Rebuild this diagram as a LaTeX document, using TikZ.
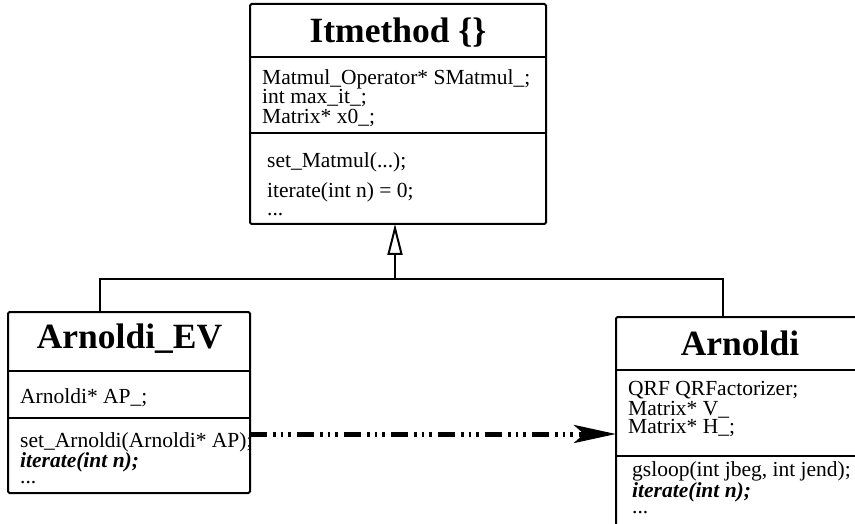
\documentclass[tikz,border=0pt]{standalone}
\usepackage{fontspec}
\setmainfont{Liberation Serif}
\usetikzlibrary{arrows.meta}
\begin{document}
\begin{tikzpicture}[x=1pt,y=-1pt,
  classbox/.style={draw, line width=2pt, rounded corners=1.5pt, inner sep=0pt, outer sep=0pt},
  divider/.style={line width=1.4pt},
  title/.style={anchor=base, inner sep=0pt, font=\fontsize{35.5}{40}\selectfont\bfseries},
  member/.style={anchor=base west, inner sep=0pt, font=\fontsize{21.5}{20}\selectfont},
  abstractop/.style={member, font=\fontsize{21.5}{20}\selectfont\bfseries\itshape},
  conn/.style={line width=2pt},
  inherit/.style={conn, -{Triangle[open, length=31pt, width=15pt]}},
  dep/.style={line width=5pt,
    dash pattern=on 17pt off 6pt on 2.5pt off 5pt on 2.5pt off 5pt on 2.5pt off 6.5pt,
    -{Stealth[length=42pt, width=18pt, inset=10pt]}}
]
\useasboundingbox (0,0) rectangle (855,524);
\clip (0,0) rectangle (855,524);

% class boxes
\node[classbox, minimum width=296pt, minimum height=220pt] (itm) at (398,114) {};
\node[classbox, minimum width=242pt, minimum height=181pt] (ev) at (129,402.5) {};
\node[classbox, minimum width=248pt, minimum height=223pt] (arn) at (740,428.5) {};

% compartment dividers
\draw[divider] ([yshift=-53pt]itm.north west) -- ([yshift=-53pt]itm.north east);
\draw[divider] ([yshift=-129pt]itm.north west) -- ([yshift=-129pt]itm.north east);
\draw[divider] ([yshift=-59pt]ev.north west) -- ([yshift=-59pt]ev.north east);
\draw[divider] ([yshift=-106pt]ev.north west) -- ([yshift=-106pt]ev.north east);
\draw[divider] ([yshift=-53pt]arn.north west) -- ([yshift=-53pt]arn.north east);
\draw[divider] ([yshift=-139pt]arn.north west) -- ([yshift=-139pt]arn.north east);

% Itmethod
\node[title] (itmT) at (398,43) {Itmethod \{\}};
\node[member] (itmA1) at (262,85) {Matmul\_Operator* SMatmul\_;};
\node[member] (itmA2) at (262,104) {int max\_it\_;};
\node[member] (itmA3) at (262,124) {Matrix* x0\_;};
\node[member] (itmM1) at (267,168) {set\_Matmul(...);};
\node[member] (itmM2) at (267,197) {iterate(int n) = 0;};
\node[member] (itmM3) at (267,215) {...};

% Arnoldi_EV
\node[title] (evT) at (129.5,348) {Arnoldi\_EV};
\node[member] (evA1) at (20,403) {Arnoldi* AP\_;};
\node[member] (evM1) at (20,447) {set\_Arnoldi(Arnoldi* AP);};
\node[abstractop] (evM2) at (20,467) {iterate(int n);};
\node[member] (evM3) at (20,483) {...};

% Arnoldi
\node[title] (arnT) at (740,355) {Arnoldi};
\node[member] (arnA1) at (628,395) {QRF QRFactorizer;};
\node[member] (arnA2) at (628,415) {Matrix* V\_};
\node[member] (arnA3) at (628,433) {Matrix* H\_;};
\node[member] (arnM1) at (632,476) {gsloop(int jbeg, int jend);};
\node[abstractop] (arnM2) at (632,497) {iterate(int n);};
\node[member] (arnM3) at (632,513) {...};

% generalisation
\coordinate (junc) at (395,279);
\coordinate (lft) at (99.5,279);
\coordinate (rgt) at (723,279);
\draw[conn] (ev.north -| lft) -- (lft) -- (rgt) -- (arn.north -| rgt);
\draw[inherit] (junc) -- (itm.south -| junc);

% dependency
\coordinate (depy) at (0,434);
\draw[dep] (ev.east |- depy) -- (arn.west |- depy);
\end{tikzpicture}
\end{document}
